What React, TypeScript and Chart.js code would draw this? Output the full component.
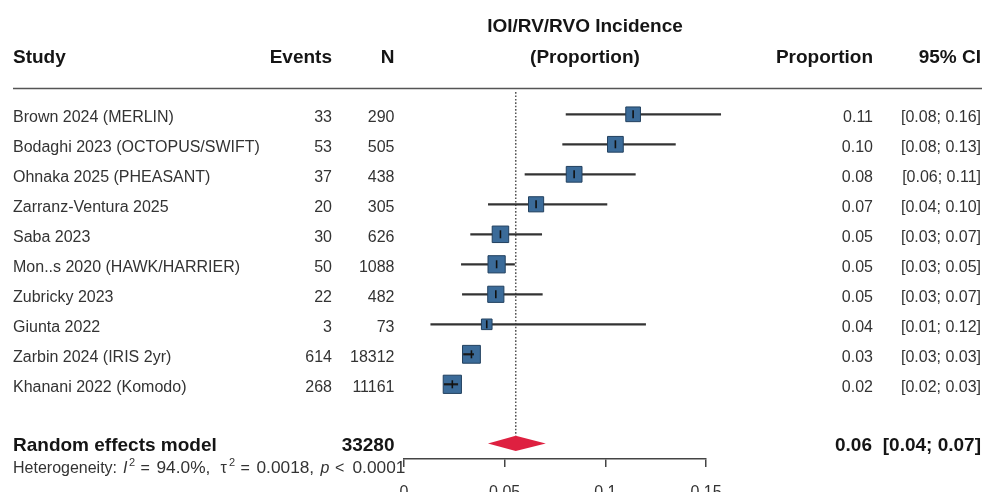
import { useEffect, useRef } from 'react';
import { Chart, registerables } from 'chart.js';

Chart.register(...registerables);

// ---------- data ----------
const studies = [
  'Brown 2024 (MERLIN)',
  'Bodaghi 2023 (OCTOPUS/SWIFT)',
  'Ohnaka 2025 (PHEASANT)',
  'Zarranz-Ventura 2025',
  'Saba 2023',
  'Mon..s 2020 (HAWK/HARRIER)',
  'Zubricky 2023',
  'Giunta 2022',
  'Zarbin 2024 (IRIS 2yr)',
  'Khanani 2022 (Komodo)',
];
const events = [33, 53, 37, 20, 30, 50, 22, 3, 614, 268];
const totals = [290, 505, 438, 305, 626, 1088, 482, 73, 18312, 11161];
const proportions = [0.1138, 0.105, 0.0845, 0.0656, 0.0479, 0.046, 0.0456, 0.0411, 0.0335, 0.024];
const ciLower = [0.0805, 0.0788, 0.0601, 0.0419, 0.0331, 0.0285, 0.029, 0.0133, 0.0296, 0.02];
const ciUpper = [0.1573, 0.1348, 0.1149, 0.1008, 0.0684, 0.0549, 0.0687, 0.12, 0.0346, 0.0267];
const weights = [8.6, 9.8, 9.8, 9.1, 10.7, 11.6, 10.3, 4.7, 12.4, 12.9];
const propLabels = ['0.11', '0.10', '0.08', '0.07', '0.05', '0.05', '0.05', '0.04', '0.03', '0.02'];
const ciLabels = [
  '[0.08; 0.16]', '[0.08; 0.13]', '[0.06; 0.11]', '[0.04; 0.10]', '[0.03; 0.07]',
  '[0.03; 0.05]', '[0.03; 0.07]', '[0.01; 0.12]', '[0.03; 0.03]', '[0.02; 0.03]',
];
const pooledLabel = 'Random effects model';
const pooledTotal = 33280;
const pooledEst = 0.0555;
const pooledLower = 0.0417;
const pooledUpper = 0.0704;
const pooledPropLabel = '0.06';
const pooledCiLabel = '[0.04; 0.07]';
const xTickValues = [0, 0.05, 0.1, 0.15];
const xTickLabels = ['0', '0.05', '0.1', '0.15'];

// ---------- style / layout ----------
const FONT = '"Liberation Sans", Arial, Helvetica, sans-serif';
const BOX_FILL = '#3b6b99';
const BOX_BORDER = '#22405f';
const DIAMOND = '#de2040';
const TEXT = '#333333';
const BOLD_TEXT = '#151515';
const SUMMARY_ROW = 10.97;
const DIAMOND_HALF = 7.7;
const boxSide = (i: number) => 5.35 * Math.sqrt(weights[i]);

const rows = studies.map((_, i) => i);

const textPlugin = {
  id: 'forestText',
  afterDatasetsDraw(chart: any) {
    const ctx = chart.ctx as CanvasRenderingContext2D;
    const xs = chart.scales.x;
    const ys = chart.scales.y;
    ctx.save();
    const yd = ys.getPixelForValue(SUMMARY_ROW);
    ctx.beginPath();
    ctx.moveTo(xs.getPixelForValue(pooledLower), yd);
    ctx.lineTo(xs.getPixelForValue(pooledEst), yd - DIAMOND_HALF);
    ctx.lineTo(xs.getPixelForValue(pooledUpper), yd);
    ctx.lineTo(xs.getPixelForValue(pooledEst), yd + DIAMOND_HALF);
    ctx.closePath();
    ctx.fillStyle = DIAMOND;
    ctx.fill();
    ctx.restore();
  },
  afterDraw(chart: any) {
    const ctx = chart.ctx as CanvasRenderingContext2D;
    const ys = chart.scales.y;
    ctx.save();
    ctx.textBaseline = 'alphabetic';
    const txt = (s: string, x: number, y: number, align: CanvasTextAlign, font: string, color: string) => {
      ctx.font = font;
      ctx.textAlign = align;
      ctx.fillStyle = color;
      ctx.fillText(s, x, y);
      return ctx.measureText(s).width;
    };
    const HB = `bold 19px ${FONT}`;
    const R = `16px ${FONT}`;
    // headers
    txt('Study', 13, 63.3, 'left', HB, BOLD_TEXT);
    txt('Events', 332, 63.3, 'right', HB, BOLD_TEXT);
    txt('N', 394.5, 63.3, 'right', HB, BOLD_TEXT);
    txt('IOI/RV/RVO Incidence', 585, 31.7, 'center', HB, BOLD_TEXT);
    txt('(Proportion)', 585, 63.3, 'center', HB, BOLD_TEXT);
    txt('Proportion', 873, 63.3, 'right', HB, BOLD_TEXT);
    txt('95% CI', 981, 63.3, 'right', HB, BOLD_TEXT);
    // separator
    ctx.strokeStyle = '#555';
    ctx.lineWidth = 1.6;
    ctx.beginPath();
    ctx.moveTo(13, 88.5);
    ctx.lineTo(982, 88.5);
    ctx.stroke();
    // rows
    rows.forEach((i) => {
      const y = ys.getPixelForValue(i) + 7.5;
      txt(studies[i], 13, y, 'left', R, TEXT);
      txt(String(events[i]), 332, y, 'right', R, TEXT);
      txt(String(totals[i]), 394.5, y, 'right', R, TEXT);
      txt(propLabels[i], 873, y, 'right', R, TEXT);
      txt(ciLabels[i], 981, y, 'right', R, TEXT);
    });
    // summary
    const ysum = ys.getPixelForValue(SUMMARY_ROW) + 7.5;
    txt(pooledLabel, 13, ysum, 'left', HB, BOLD_TEXT);
    txt(String(pooledTotal), 394.5, ysum, 'right', HB, BOLD_TEXT);
    txt(pooledPropLabel, 872, ysum, 'right', HB, BOLD_TEXT);
    txt(pooledCiLabel, 981, ysum, 'right', HB, BOLD_TEXT);
    // heterogeneity (plotmath-like spacing)
    const hb = ysum + 22.5;
    const I = `italic 16px ${FONT}`;
    const N = `17.3px ${FONT}`;
    const S = `11px ${FONT}`;
    txt('Heterogeneity:', 13, hb, 'left', R, TEXT);
    txt('I', 123, hb, 'left', I, TEXT);
    txt('2', 129, hb - 7, 'left', S, TEXT);
    txt('=', 140.5, hb, 'left', R, TEXT);
    txt('94.0%,', 156.5, hb, 'left', N, TEXT);
    txt('\u03c4', 220.5, hb, 'left', R, TEXT);
    txt('2', 229, hb - 7, 'left', S, TEXT);
    txt('=', 240.5, hb, 'left', R, TEXT);
    txt('0.0018,', 256.5, hb, 'left', N, TEXT);
    txt('p', 320.5, hb, 'left', I, TEXT);
    txt('<', 335, hb, 'left', R, TEXT);
    txt('0.0001', 352.5, hb, 'left', N, TEXT);
    ctx.restore();
  },
};

export default function App() {
  const ref = useRef<HTMLCanvasElement>(null);
  useEffect(() => {
    document.body.style.margin = '0';
    const chart = new Chart(ref.current as HTMLCanvasElement, {
      type: 'scatter',
      data: {
        datasets: [
          {
            type: 'line',
            data: [
              { x: pooledEst, y: -0.74 },
              { x: pooledEst, y: SUMMARY_ROW - DIAMOND_HALF / 30 },
            ],
            borderColor: '#555',
            borderWidth: 1.5,
            borderDash: [1.6, 1.8],
            pointRadius: 0,
            clip: false,
            order: 5,
          } as any,
          {
            type: 'bar',
            indexAxis: 'y',
            data: rows.map((i) => ({ x: [ciLower[i], ciUpper[i]], y: i })),
            backgroundColor: '#333',
            barThickness: 1.5,
            grouped: false,
            clip: false,
            order: 4,
          } as any,
          {
            type: 'scatter',
            data: rows.map((i) => ({ x: proportions[i], y: i })),
            pointStyle: 'rect',
            pointRadius: rows.map((i) => (boxSide(i) - 1) / Math.SQRT2),
            pointBackgroundColor: BOX_FILL,
            pointBorderColor: BOX_BORDER,
            pointBorderWidth: 1,
            backgroundColor: BOX_FILL,
            borderColor: BOX_BORDER,
            clip: false,
            order: 3,
          } as any,
          {
            type: 'bar',
            indexAxis: 'y',
            data: rows.map((i) => ({ x: [ciLower[i], ciUpper[i]], y: i })),
            backgroundColor: (c: any) => {
              const xs = c.chart.scales.x;
              const i = c.dataIndex;
              if (!xs || i === undefined) return 'rgba(0,0,0,0)';
              const p = xs.getPixelForValue(proportions[i]);
              const h = boxSide(i) / 2;
              const inside = xs.getPixelForValue(ciLower[i]) >= p - h && xs.getPixelForValue(ciUpper[i]) <= p + h;
              return inside ? '#1a1a1a' : 'rgba(0,0,0,0)';
            },
            barThickness: 1.5,
            grouped: false,
            clip: false,
            order: 2,
          } as any,
          {
            type: 'scatter',
            data: rows.map((i) => ({ x: proportions[i], y: i })),
            pointStyle: 'line',
            pointRotation: 90,
            rotation: 90,
            pointRadius: 4,
            pointBorderColor: '#111',
            pointBorderWidth: 1.6,
            borderColor: '#111',
            clip: false,
            order: 1,
          } as any,
        ],
      },
      options: {
        animation: false,
        responsive: false,
        devicePixelRatio: 1,
        events: [],
        layout: { autoPadding: false, padding: { left: 404, right: 276, top: 0, bottom: 0 } },
        plugins: { legend: { display: false }, tooltip: { enabled: false } },
        scales: {
          x: {
            type: 'linear',
            min: 0,
            max: 0.15,
            offset: false,
            afterFit: (s: any) => {
              s.height = 33;
            },
            afterBuildTicks: (s: any) => {
              s.ticks = xTickValues.map((v) => ({ value: v }));
            },
            ticks: {
              callback: (_v: any, i: number) => xTickLabels[i],
              font: { family: FONT, size: 16 },
              color: TEXT,
              padding: 16,
              maxRotation: 0,
              autoSkip: false,
            },
            grid: {
              offset: false,
              drawOnChartArea: false,
              drawTicks: true,
              tickLength: 8,
              color: '#444',
              lineWidth: 1.5,
            },
            border: { display: true, color: '#444', width: 1.5 },
          },
          y: {
            type: 'linear',
            display: false,
            reverse: true,
            offset: false,
            grid: { offset: false },
            min: -3.81,
            max: 11.49,
          },
        },
      } as any,
      plugins: [textPlugin],
    });
    return () => chart.destroy();
  }, []);
  return (
    <div style={{ position: 'absolute', left: 0, top: 0, width: 982, height: 492, background: '#fff', overflow: 'hidden' }}>
      <canvas ref={ref} width={982} height={492} style={{ display: 'block', width: 982, height: 492 }} />
    </div>
  );
}
